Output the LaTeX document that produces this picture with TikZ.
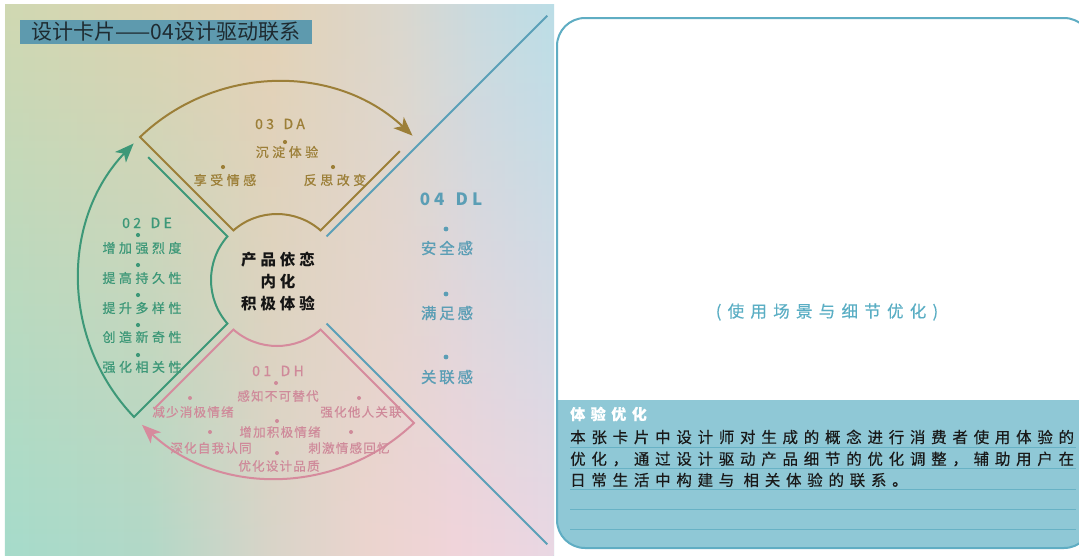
\documentclass[tikz,border=0pt]{standalone}
\usepackage{fontspec}
\setmainfont{Noto Sans CJK SC}
\newfontfamily\sTitle{Noto Sans CJK SC}
\newfontfamily\sA[LetterSpace=27,FakeBold=0.6]{Noto Sans CJK SC}
\newfontfamily\sH[LetterSpace=10,FakeBold=0.4]{Noto Sans CJK SC}
\newfontfamily\sL[LetterSpace=18,FakeBold=0.9]{Noto Sans CJK SC}
\newfontfamily\sHead[LetterSpace=24,FakeBold=0.8]{Noto Sans CJK SC}
\newfontfamily\sDL[LetterSpace=24]{Noto Sans CJK SC}
\newfontfamily\sCen[LetterSpace=25]{Noto Sans CJK SC}
\newfontfamily\sSub[LetterSpace=38,FakeBold=0.3]{Noto Sans CJK SC}
\newfontfamily\sPar[LetterSpace=37,FakeBold=0.4]{Noto Sans CJK SC}
\usetikzlibrary{arrows.meta,fadings,calc}

\definecolor{gold}{HTML}{9C7F38}
\definecolor{dgreen}{HTML}{3D9878}
\definecolor{pinkc}{HTML}{D68B9D}
\definecolor{pinkt}{HTML}{CF8A9A}
\definecolor{bluec}{HTML}{5BA0B8}
\definecolor{bluet}{HTML}{5B9EB5}
\definecolor{tealb}{HTML}{5FADC3}
\definecolor{tealfill}{HTML}{8FC8D6}
\definecolor{ruleline}{HTML}{68B2C5}
\definecolor{titlebg}{HTML}{5E9AAE}
\definecolor{titletx}{HTML}{1E2B31}
\definecolor{subt}{HTML}{5AAEC4}
\definecolor{cent}{HTML}{151515}
\definecolor{t0}{HTML}{D0D8B2}
\definecolor{t1}{HTML}{DCD4B2}
\definecolor{t2}{HTML}{E4D2B6}
\definecolor{t3}{HTML}{DAD8CE}
\definecolor{t4}{HTML}{C9DBE0}
\definecolor{t5}{HTML}{BBDEE7}
\definecolor{b0}{HTML}{A6DCCB}
\definecolor{b1}{HTML}{B2D9C8}
\definecolor{b2}{HTML}{D8D5C9}
\definecolor{b3}{HTML}{ECD4CF}
\definecolor{b4}{HTML}{F1D4DA}
\definecolor{b5}{HTML}{EAD7E3}

\pgfdeclarehorizontalshading{bgtop}{100bp}{color(0bp)=(t0); color(25bp)=(t0); color(38bp)=(t1); color(49bp)=(t2); color(61bp)=(t3); color(68bp)=(t4); color(75bp)=(t5); color(100bp)=(t5)}
\pgfdeclarehorizontalshading{bgbot}{100bp}{color(0bp)=(b0); color(25bp)=(b0); color(38bp)=(b1); color(49bp)=(b2); color(58bp)=(b3); color(66bp)=(b4); color(75bp)=(b5); color(100bp)=(b5)}

\tikzset{
  sector/.style={line width=2pt, line join=miter},
  tipA/.style={-{Stealth[length=19pt,width=15pt,inset=5pt]}},
  itA/.style={inner sep=0pt, text=#1, font=\fontsize{13}{15}\sA\selectfont},
  itH/.style={inner sep=0pt, text=pinkt, font=\fontsize{12.5}{14}\sH\selectfont},
  itL/.style={inner sep=0pt, text=bluet, font=\fontsize{15.5}{17}\sL\selectfont},
  head/.style={inner sep=0pt, text=#1, font=\fontsize{14}{16}\sHead\selectfont},
  cen/.style={inner sep=0pt, text=cent, font=\fontsize{15.5}{17}\sCen\bfseries\selectfont},
  par/.style={inner sep=0pt, anchor=west, text=black!90, font=\fontsize{15.5}{17}\sPar\selectfont},
  rule/.style={ruleline, line width=0.8pt},
}

\begin{document}
\begin{tikzpicture}[x=1pt,y=-1pt]
\useasboundingbox (0,0) rectangle (1079,555);
\fill[white] (0,0) rectangle (1079,555);
% left panel background
\shade[shading=bgtop] (5,4) rectangle (554,555);
\shade[shading=bgbot, path fading=north] (5,4) rectangle (554,555);

% title
\node[fill=titlebg, minimum width=292pt, minimum height=24pt, inner sep=0pt,
      text=titletx, font=\fontsize{21}{23}\sTitle\selectfont] (title) at (166,31.8) {设计卡片——04设计驱动联系};

\coordinate (C) at (277,280);

% DA sector (top, gold)
\draw[sector, gold, tipA] ($(C)+(-46.37:178)$) -- ($(C)+(-48.68:66)$)
   arc[start angle=-48.68, end angle=-131.32, radius=66]
   -- ($(C)+(-133.77:198)$)
   arc[start angle=-133.77, end angle=-46.8, radius=198];
% DE sector (left, green)
\draw[sector, dgreen, tipA] ($(C)+(-136.37:178)$) -- ($(C)+(-138.68:66)$)
   arc[start angle=-138.68, end angle=-221.32, radius=66]
   -- ($(C)+(-223.77:198)$)
   arc[start angle=-223.77, end angle=-136.4, radius=198];
% DH sector (bottom, pink)
\draw[sector, pinkc, tipA] ($(C)+(-226.37:178)$) -- ($(C)+(-228.68:66)$)
   arc[start angle=-228.68, end angle=-311.32, radius=66]
   -- ($(C)+(-313.77:198)$)
   arc[start angle=-313.77, end angle=-227, radius=198];
% DL lines (right, blue)
\draw[bluec, line width=1.8pt] ($(C)+(-41.32:66)$) -- ($(C)+(-45:378)+(45:4.24)$);
\draw[bluec, line width=1.8pt] ($(C)+(41.32:66)$) -- ($(C)+(45:378)+(-45:4.24)$);

% centre text
\node[cen] (c1) at (278,260) {产品依恋};
\node[cen] (c2) at (278,282) {内化};
\node[cen] (c3) at (278,304) {积极体验};

% DA texts
\node[head=gold] (da) at (280,124) {03\hspace{3pt} DA};
\fill[gold] (285,142) circle[radius=2.1];
\fill[gold] (223,167) circle[radius=2.1];
\fill[gold] (333,167) circle[radius=2.1];
\node[itA=gold] (da1) at (287,152) {沉淀体验};
\node[itA=gold] (da2) at (225,180) {享受情感};
\node[itA=gold] (da3) at (335,180) {反思改变};

% DE texts
\node[head=dgreen] (de) at (147,223) {02\hspace{3pt} DE};
\foreach \yy in {235,265,295,325,355} \fill[dgreen] (138,\yy) circle[radius=2.1];
\node[itA=dgreen] (de1) at (142,248) {增加强烈度};
\node[itA=dgreen] (de2) at (142,278) {提高持久性};
\node[itA=dgreen] (de3) at (142,308) {提升多样性};
\node[itA=dgreen] (de4) at (142,337) {创造新奇性};
\node[itA=dgreen] (de5) at (142,367) {强化相关性};

% DH texts
\node[head=pinkt] (dh) at (278,371) {01\hspace{3pt} DH};
\fill[pinkt] (276,383) circle[radius=2];
\fill[pinkt] (190,398) circle[radius=2];
\fill[pinkt] (359,398) circle[radius=2];
\fill[pinkt] (277,421) circle[radius=2];
\fill[pinkt] (210,432) circle[radius=2];
\fill[pinkt] (351,432) circle[radius=2];
\fill[pinkt] (277,453) circle[radius=2];
\node[itH] (dh1) at (278,396) {感知不可替代};
\node[itH] (dh2) at (193,412) {减少消极情绪};
\node[itH] (dh3) at (361,412) {强化他人关联};
\node[itH] (dh4) at (280,432) {增加积极情绪};
\node[itH] (dh5) at (211,448) {深化自我认同};
\node[itH] (dh6) at (349,448) {刺激情感回忆};
\node[itH] (dh7) at (279,466) {优化设计品质};

% DL texts
\node[inner sep=0pt, text=bluet, font=\fontsize{17}{19}\sDL\bfseries\selectfont] (dl) at (451,199) {04\hspace{3pt} DL};
\fill[bluet] (446,229) circle[radius=2.4];
\fill[bluet] (446,294) circle[radius=2.4];
\fill[bluet] (446,357) circle[radius=2.4];
\node[itL] (dl1) at (447,248) {安全感};
\node[itL] (dl2) at (447,313) {满足感};
\node[itL] (dl3) at (447,377) {关联感};

% right panel
\fill[white, rounded corners=28pt] (557,18) rectangle (1092,548);
\begin{scope}
  \clip[rounded corners=28pt] (557,18) rectangle (1092,548);
  \fill[tealfill] (550,400) rectangle (1100,560);
\end{scope}
\draw[tealb, line width=2pt, rounded corners=28pt] (557,18) rectangle (1092,548);

\node[inner sep=0pt, text=subt, font=\fontsize{16.5}{18}\sSub\selectfont] (sub) at (827,312) {(使用场景与细节优化)};

\foreach \yy in {447,468,489,509,529} \draw[rule] (570,\yy) -- (1076,\yy);
\node[inner sep=0pt, anchor=west, text=white, font=\fontsize{15}{17}\sPar\bfseries\selectfont] (ty) at (570,414) {体验优化};
\node[par] (p1) at (570,437) {本张卡片中设计师对生成的概念进行消费者使用体验的};
\node[par] (p2) at (570,459) {优化，通过设计驱动产品细节的优化调整，辅助用户在};
\node[par] (p3) at (570,480) {日常生活中构建与 相关体验的联系。};
\end{tikzpicture}
\end{document}
